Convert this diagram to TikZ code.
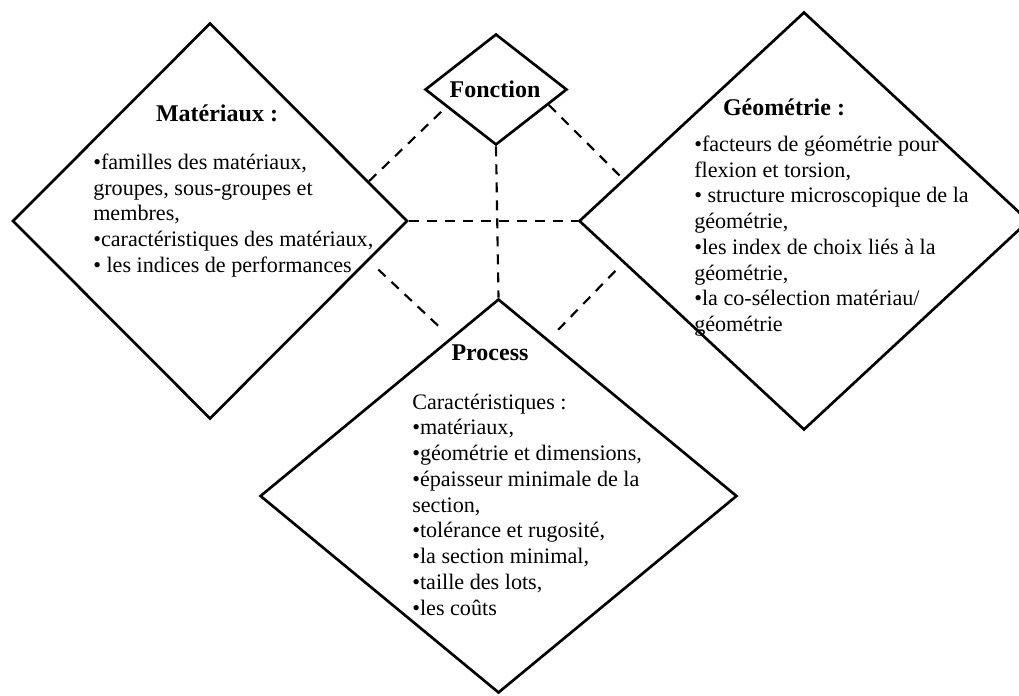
\documentclass[tikz,border=0pt]{standalone}
\usepackage{fontspec}
\setmainfont{Liberation Serif}
\usetikzlibrary{shapes.geometric,calc}
\begin{document}
\begin{tikzpicture}[x=0.75pt,y=-0.75pt,
 dia/.style={draw, diamond, line width=2pt, inner sep=0pt},
 head/.style={font=\fontsize{18}{21}\selectfont\bfseries, inner sep=0pt},
 body/.style={font=\fontsize{16.6}{19.3}\selectfont, align=left, inner sep=0pt, anchor=north west},
 link/.style={line width=1.6pt, dash pattern=on 7.5pt off 6pt}]
\useasboundingbox (0,0) rectangle (1019,695);
% diamonds
\node[dia, minimum width=296.25pt, minimum height=297pt] (M) at (210,221) {};
\node[dia, minimum width=106.5pt, minimum height=83.25pt] (F) at (496,89.5) {};
\node[dia, minimum width=337.5pt, minimum height=313.5pt] (G) at (804,221) {};
\node[dia, minimum width=357.75pt, minimum height=295.5pt] (P) at (498.5,496) {};
% connection points
\coordinate (mf1) at ($(M.north)!0.8!(M.east)$);
\coordinate (mf2) at ($(F.west)!0.31!(F.south)$);
\coordinate (fg1) at ($(F.east)!0.27!(F.south)$);
\coordinate (fg2) at ($(G.north)!0.8!(G.west)$);
\coordinate (mp1) at ($(M.east)!0.2!(M.south)$);
\coordinate (mp2) at ($(P.north)!0.2!(P.west)$);
\coordinate (pg1) at ($(P.north)!0.21!(P.east)$);
\coordinate (pg2) at ($(G.west)!0.2!(G.south)$);
% dashed links
\draw[link] (mf1) -- (mf2);
\draw[link] (fg1) -- (fg2);
\draw[link, shorten <=9.5pt, shorten >=8.5pt] (mp1) -- (mp2);
\draw[link, shorten <=10pt, shorten >=5pt] (pg1) -- (pg2);
\draw[link] (M.east) -- (G.west);
\draw[link] (F.south) -- (P.north);
% texts
\node[head] (Mh) at (217,113) {Matériaux :};
\node[body] (Mb) at (93,153.5) {•familles des matériaux,\\groupes, sous-groupes et\\membres,\\•caractéristiques des matériaux,\\• les indices de performances};
\node[head] (Fh) at (495,89) {Fonction};
\node[head] (Gh) at (784,107) {Géométrie :};
\node[body] (Gb) at (694,135.5) {•facteurs de géométrie pour\\flexion et torsion,\\• structure microscopique de la\\géométrie,\\•les index de choix liés à la\\géométrie,\\•la co-sélection matériau/\\géométrie};
\node[head] (Ph) at (490,353) {Process};
\node[body] (Pb) at (412,393.5) {Caractéristiques :\\•matériaux,\\•géométrie et dimensions,\\•épaisseur minimale de la\\section,\\•tolérance et rugosité,\\•la section minimal,\\•taille des lots,\\•les coûts};
\end{tikzpicture}
\end{document}
